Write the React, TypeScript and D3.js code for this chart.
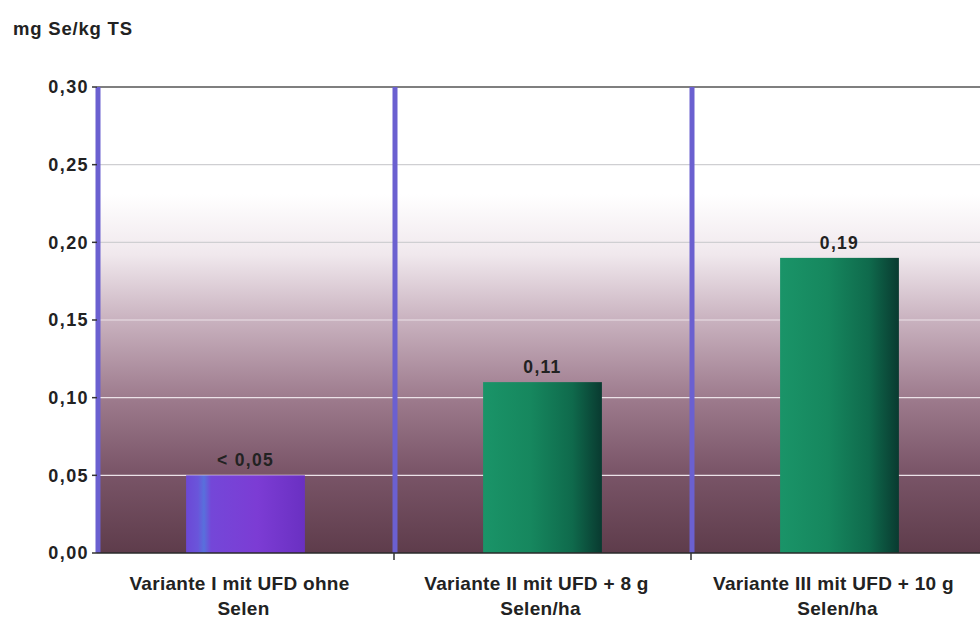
import React from "react";
import * as d3 from "d3";

const categories = ["Variante I mit UFD ohne|Selen", "Variante II mit UFD + 8 g|Selen/ha", "Variante III mit UFD + 10 g|Selen/ha"];
const values = [0.05, 0.11, 0.19];
const valueLabels = ["< 0,05", "0,11", "0,19"];
const barColors = ["purple", "green", "green"];
const yTicks = [0, 0.05, 0.1, 0.15, 0.2, 0.25, 0.3];
const yTitle = "mg Se/kg TS";

const W = 980, H = 621;
const left = 97, top = 87, bottom = 553;
const step = 297;

export default function App() {
  const x = d3.scaleBand<string>().domain(categories).range([left, left + step * categories.length]).paddingInner(0).paddingOuter(0);
  const y = d3.scaleLinear().domain([0, 0.3]).range([bottom, top]);
  const bw = x.bandwidth() * 0.4;
  const fmt = (v: number) => d3.format(".2f")(v).replace(".", ",");
  const font = "'Liberation Sans', Arial, sans-serif";
  const plotRight = left + step * categories.length;
  return (
    <svg width={W} height={H} style={{ position: "absolute", left: 0, top: 0, background: "#fff" }} fontFamily={font}>
      <defs>
        <linearGradient id="bg" x1="0" y1="0" x2="0" y2="1">
          <stop offset="0" stopColor="#ffffff" />
          <stop offset="0.23" stopColor="#ffffff" />
          <stop offset="0.36" stopColor="#f0e8ed" />
          <stop offset="0.5" stopColor="#c9b2bf" />
          <stop offset="0.66" stopColor="#9f7d8f" />
          <stop offset="0.82" stopColor="#7b5669" />
          <stop offset="1" stopColor="#5e3c4b" />
        </linearGradient>
        <linearGradient id="purple" x1="0" y1="0" x2="1" y2="0">
          <stop offset="0" stopColor="#6c48d6" />
          <stop offset="0.1" stopColor="#6a55da" />
          <stop offset="0.15" stopColor="#5870dc" />
          <stop offset="0.21" stopColor="#7447d8" />
          <stop offset="0.6" stopColor="#7c3cd4" />
          <stop offset="1" stopColor="#6a30c2" />
        </linearGradient>
        <linearGradient id="green" x1="0" y1="0" x2="1" y2="0">
          <stop offset="0" stopColor="#1a9468" />
          <stop offset="0.4" stopColor="#16875e" />
          <stop offset="0.75" stopColor="#0f6a4c" />
          <stop offset="1" stopColor="#093a30" />
        </linearGradient>
      </defs>
      <text x={13} y={35} fontSize={18.5} fontWeight="bold" fill="#222" letterSpacing={0.8}>{yTitle}</text>
      <rect x={left} y={top} width={plotRight - left} height={bottom - top} fill="url(#bg)" />
      {yTicks.filter(t => t > 0 && t < 0.3).map(t => (
        <line key={t} x1={left} x2={plotRight} y1={y(t)} y2={y(t)} stroke={t >= 0.2 ? "#cfcfd2" : "#ece2e8"} strokeWidth={1.2} />
      ))}
      <line x1={left} x2={plotRight} y1={y(0.3)} y2={y(0.3)} stroke="#555" strokeWidth={1.5} />
      {categories.map((c, i) => (
        <rect key={c} x={(x(c) as number) + (x.bandwidth() - bw) / 2} y={y(values[i])} width={bw} height={bottom - y(values[i])} fill={`url(#${barColors[i]})`} />
      ))}
      {categories.map((c) => (
        <line key={"v" + c} x1={(x(c) as number) + 1} x2={(x(c) as number) + 1} y1={top} y2={bottom} stroke="#6b60d0" strokeWidth={5} />
      ))}
      <line x1={left} x2={plotRight} y1={bottom} y2={bottom} stroke="#2a2a2a" strokeWidth={1.5} />
      {categories.map((c, i) => i > 0 && (
        <line key={"t" + c} x1={x(c) as number} x2={x(c) as number} y1={bottom} y2={bottom + 7} stroke="#333" strokeWidth={1.5} />
      ))}
      {yTicks.map(t => (
        <g key={"y" + t}>
          <line x1={left - 5} x2={left} y1={y(t)} y2={y(t)} stroke="#333" strokeWidth={1.5} />
          <text x={left - 8} y={y(t)} dy="0.36em" textAnchor="end" fontSize={18} fontWeight="bold" fill="#222" letterSpacing={1.4}>{fmt(t)}</text>
        </g>
      ))}
      {categories.map((c, i) => (
        <text key={"l" + c} x={(x(c) as number) + x.bandwidth() / 2} y={y(values[i]) - 9} textAnchor="middle" fontSize={17.5} fontWeight="bold" fill="#222" letterSpacing={1.3}>{valueLabels[i]}</text>
      ))}
      {categories.map((c) => (
        <text key={"c" + c} textAnchor="middle" fontSize={19} fontWeight="bold" fill="#222" letterSpacing={0.3}>
          {c.split("|").map((ln, j) => (
            <tspan key={j} x={(x(c) as number) + x.bandwidth() / 2 - (j === 0 ? 6 : 2)} y={590 + j * 25}>{ln}</tspan>
          ))}
        </text>
      ))}
    </svg>
  );
}
